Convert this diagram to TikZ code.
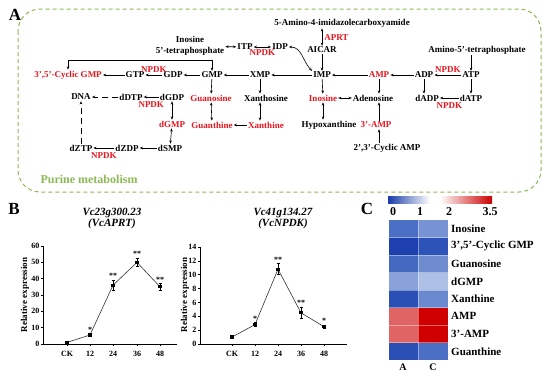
\documentclass[tikz,border=0pt]{standalone}
\usepackage{fontspec}
\setmainfont{Liberation Serif}
\usepackage{xcolor}
\usepackage{tikz}
\usetikzlibrary{arrows.meta,positioning,calc}

\definecolor{hitred}{RGB}{232,20,30}
\definecolor{pathgreen}{RGB}{140,184,86}
\definecolor{cbblue}{RGB}{24,60,168}
\definecolor{cbred}{RGB}{204,0,0}
\definecolor{inoA}{RGB}{74,111,196}
\definecolor{inoC}{RGB}{120,147,212}
\definecolor{cgmpA}{RGB}{30,64,174}
\definecolor{cgmpC}{RGB}{45,82,184}
\definecolor{guoA}{RGB}{68,105,193}
\definecolor{guoC}{RGB}{110,139,207}
\definecolor{dgmpA}{RGB}{138,162,218}
\definecolor{dgmpC}{RGB}{175,192,231}
\definecolor{xanA}{RGB}{42,79,181}
\definecolor{xanC}{RGB}{107,137,206}
\definecolor{ampA}{RGB}{224,100,100}
\definecolor{ampC}{RGB}{208,0,0}
\definecolor{guaA}{RGB}{42,79,181}
\definecolor{guaC}{RGB}{75,111,197}

\begin{document}
\begin{tikzpicture}[
    x=1pt, y=-1pt,
    >={Stealth[length=3.2pt,width=2.6pt]},
    font=\bfseries\fontsize{9}{10}\selectfont,
    met/.style={inner sep=1pt, align=center},
    hit/.style={met, text=hitred},
    enz/.style={inner sep=0pt, text=hitred},
    flow/.style={->, line width=0.6pt},
    flowtwo/.style={<->, line width=0.6pt},
    axisline/.style={line width=0.5pt},
    ticklab/.style={font=\bfseries\fontsize{8}{8}\selectfont, inner sep=1pt},
    ylab/.style={font=\bfseries\fontsize{9}{9}\selectfont, rotate=90},
    ttl/.style={font=\bfseries\itshape\fontsize{11}{11}\selectfont, align=center},
    trend/.style={line width=0.6pt, black!80},
    errbar/.style={line width=0.5pt},
    star/.style={font=\bfseries\fontsize{8}{8}\selectfont, inner sep=0pt},
    heat/.style={font=\bfseries\fontsize{11}{11}\selectfont, anchor=west, inner sep=0pt},
    panel/.style={font=\bfseries\fontsize{17}{17}\selectfont},
  ]
  \useasboundingbox (0,0) rectangle (550,375);

  % Panel A: purine metabolism
  \node[panel] (lettera) at (15,15) {A};
  \draw[pathgreen, line width=1pt, dash pattern=on 4pt off 3pt, rounded corners=22pt]
    (18,9) rectangle (541,192);
  \node[font=\bfseries\fontsize{12}{12}\selectfont, text=pathgreen] (pathname) at (89,179)
    {Purine metabolism};

  % Top
  \node[met] (amino4) at (342,23) {5-Amino-4-imidazolecarboxyamide};
  \node[met] (aicar) at (322,50) {AICAR};
  \node[met] (inotetra) at (190,46) {Inosine\\[1pt]5'-tetraphosphate};
  \node[met] (itp) at (245,47) {ITP};
  \node[met] (idp) at (280,47) {IDP};
  \node[met] (amino5) at (477,50) {Amino-5'-tetraphosphate};

  % Row 1
  \node[hit] (cgmp) at (68,75) {3',5'-Cyclic GMP};
  \node[met] (gtp) at (135,75) {GTP};
  \node[met] (gdp) at (173,75) {GDP};
  \node[met] (gmp) at (212,75) {GMP};
  \node[met] (xmp) at (260,75) {XMP};
  \node[met] (imp) at (322,75) {IMP};
  \node[hit] (amp) at (379,75) {AMP};
  \node[met] (adp) at (424,75) {ADP};
  \node[met] (atp) at (471,75) {ATP};

  % Row 2
  \node[met] (dna) at (81,97) {DNA};
  \node[met] (ddtp) at (131,97) {dDTP};
  \node[met] (dgdp) at (172,97) {dGDP};
  \node[hit] (guanosine) at (211,98) {Guanosine};
  \node[met] (xanthosine) at (266,98) {Xanthosine};
  \node[hit] (inosine) at (323,98) {Inosine};
  \node[met] (adenosine) at (373,98) {Adenosine};
  \node[met] (dadp) at (427,98) {dADP};
  \node[met] (datp) at (471,98) {dATP};

  % Row 3
  \node[hit] (dgmp) at (172,124) {dGMP};
  \node[hit] (guanthine) at (212,125) {Guanthine};
  \node[hit] (xanthine) at (266,125) {Xanthine};
  \node[met] (hypox) at (329,125) {Hypoxanthine};
  \node[hit] (amp3) at (376,125) {3'-AMP};

  % Row 4
  \node[met] (dztp) at (81,148) {dZTP};
  \node[met] (dzdp) at (127,148) {dZDP};
  \node[met] (dsmp) at (170,148) {dSMP};
  \node[met] (camp) at (387,148) {2',3'-Cyclic AMP};

  % Edges, top
  \draw[flowtwo] (aicar |- amino4.south) -- node[enz, right=2pt] {APRT} (aicar);
  \draw[flow] (aicar) -- (imp);
  \draw[flowtwo] (inotetra) -- (itp);
  \draw[flowtwo] (itp) -- node[enz, below=2pt] {NPDK} (idp);
  \draw[flowtwo] (idp.east) to[out=0, in=135] (imp.north west);
  \draw[flow] (amino5.south -| atp) -- (atp);

  % Edges, row 1
  \draw[flow] (gtp) -- (cgmp);
  \draw[flow] (gdp) -- node[enz, above=2pt] {NPDK} (gtp);
  \draw[flow] (gmp) -- (gdp);
  \draw[flow] (xmp) -- (gmp);
  \draw[flow] (imp) -- (xmp);
  \draw[flow] (amp) -- (imp);
  \draw[flow] (adp) -- (amp);
  \draw[flow] (atp) -- node[enz, above=2pt] {NPDK} (adp);
  \draw[flowtwo] (cgmp.north) -- ++(0,-9) -| (gmp.north);

  % Edges, rows 2-4
  \draw[flow] (gmp) -- (guanosine);
  \draw[flowtwo] (guanosine) -- (guanthine);
  \draw[flow] (xmp) -- (xmp |- xanthosine.north);
  \draw[flowtwo] (xmp |- xanthosine.south) -- (xmp |- xanthine.north);
  \draw[flow] (xanthine) -- (guanthine);
  \draw[flow] (imp) -- (inosine);
  \draw[flowtwo] (inosine) -- (inosine |- hypox.north);
  \draw[flowtwo] (inosine) -- (adenosine);
  \draw[flow] (amp) -- (amp |- adenosine.north);
  \draw[flow] (amp |- amp3.north) -- (amp |- adenosine.south);
  \draw[flow] (amp |- camp.north) -- (amp |- amp3.south);
  \draw[flow] (adp) -- (adp |- dadp.north);
  \draw[flow] (atp) -- (datp);
  \draw[flow] (datp) -- node[enz, below=4pt] {NPDK} (dadp);
  \draw[flow] (dgdp) -- node[enz, below=4pt] {NPDK} (ddtp);
  \draw[flow, dashed, dash pattern=on 6pt off 4pt] (ddtp) -- (dna);
  \draw[flowtwo] (dgdp) -- (dgmp);
  \draw[flowtwo] (dgmp) -- (dsmp);
  \draw[flow] (dsmp) -- (dzdp);
  \draw[flow] (dzdp) -- node[enz, below=4pt] {NPDK} (dztp);
  \draw[flow, dash pattern=on 6pt off 4pt] (dztp) -- (dna);

  % Panel B
  \node[panel] (letterb) at (14,209) {B};

  % Chart: Vc23g300.23
  \node[ttl] (ttlaprt) at (112,219) {Vc23g300.23\\(VcAPRT)};
  \node[ylab] (ylabaprt) at (25,295) {Relative expression};
  \draw[axisline] (43,246) -- (43,344) -- (177,344);
  \foreach \v in {0,10,...,60}
    \draw[axisline] (43,{344-\v*1.633}) -- ++(-2.5,0) node[ticklab, anchor=east] {\v};
  \foreach \cx/\lab in {67/CK,90/12,113/24,137/36,160/48} {
    \draw[axisline] (\cx,344) -- ++(0,2);
    \node[ticklab] at (\cx,354) {\lab};
  }
  \draw[trend] (67,342.4) -- (90,335.0) -- (113,285.2) -- (137,262.4) -- (160,286.8);
  \foreach \cx/\v/\e/\s in {67/1/0.4/{},90/5.5/0.8/*,113/36/3/**,137/50/2.5/**,160/35/2/**} {
    \draw[errbar] (\cx,{344-(\v-\e)*1.633}) -- (\cx,{344-(\v+\e)*1.633});
    \draw[errbar] (\cx-1.5,{344-(\v+\e)*1.633}) -- ++(3,0);
    \draw[errbar] (\cx-1.5,{344-(\v-\e)*1.633}) -- ++(3,0);
    \fill (\cx-1.6,{344-\v*1.633-1.6}) rectangle ++(3.2,3.2);
    \node[star] at (\cx,{344-(\v+\e)*1.633-4}) {\s};
  }

  % Chart: Vc41g134.27
  \node[ttl] (ttlnpdk) at (283,219) {Vc41g134.27\\(VcNPDK)};
  \node[ylab] (ylabnpdk) at (185,295) {Relative expression};
  \draw[axisline] (200,247) -- (200,344) -- (347,344);
  \foreach \v in {0,2,...,14}
    \draw[axisline] (200,{344-\v*6.93}) -- ++(-2.5,0) node[ticklab, anchor=east] {\v};
  \foreach \cx/\lab in {232/CK,255/12,278/24,301/36,324/48} {
    \draw[axisline] (\cx,344) -- ++(0,2);
    \node[ticklab] at (\cx,354) {\lab};
  }
  \draw[trend] (232,337.1) -- (255,324.6) -- (278,269.2) -- (301,312.8) -- (324,326.7);
  \foreach \cx/\v/\e/\s in {232/1/0.2/{},255/2.8/0.3/*,278/10.8/0.8/**,301/4.5/0.8/**,324/2.5/0.2/*} {
    \draw[errbar] (\cx,{344-(\v-\e)*6.93}) -- (\cx,{344-(\v+\e)*6.93});
    \draw[errbar] (\cx-1.5,{344-(\v+\e)*6.93}) -- ++(3,0);
    \draw[errbar] (\cx-1.5,{344-(\v-\e)*6.93}) -- ++(3,0);
    \fill (\cx-1.6,{344-\v*6.93-1.6}) rectangle ++(3.2,3.2);
    \node[star] at (\cx,{344-(\v+\e)*6.93-4}) {\s};
  }

  % Panel C: heatmap
  \node[panel] (letterc) at (367,209) {C};
  \shade[left color=cbblue, right color=white] (388,196) rectangle (430,203);
  \fill[white] (430,196) rectangle (440,203);
  \shade[left color=white, right color=cbred] (440,196) rectangle (492,203);
  \foreach \cx/\lab in {393/0,420/1,449/2,490/3.5}
    \node[font=\bfseries\fontsize{12}{12}\selectfont, inner sep=0pt] at (\cx,212) {\lab};
  \foreach \lab/\ca/\cc [count=\i] in {Inosine/inoA/inoC, {3',5'-Cyclic GMP}/cgmpA/cgmpC,
      Guanosine/guoA/guoC, dGMP/dgmpA/dgmpC, Xanthine/xanA/xanC, AMP/ampA/ampC,
      3'-AMP/ampA/ampC, Guanthine/guaA/guaC} {
    \pgfmathsetmacro\ytop{220+(\i-1)*17.5}
    \fill[\ca] (389,\ytop) rectangle (418,{\ytop+17.5});
    \fill[\cc] (418,\ytop) rectangle (448,{\ytop+17.5});
    \node[heat] at (451,{\ytop+8.75}) {\lab};
  }
  \foreach \k in {1,...,7}
    \draw[white, opacity=0.4, line width=0.6pt] (389,{220+\k*17.5}) -- (448,{220+\k*17.5});
  \draw[white, opacity=0.4, line width=0.6pt] (418,220) -- (418,360);
  \node[font=\bfseries\fontsize{10}{10}\selectfont] (cola) at (403,367) {A};
  \node[font=\bfseries\fontsize{10}{10}\selectfont] (colc) at (433,367) {C};
\end{tikzpicture}
\end{document}
